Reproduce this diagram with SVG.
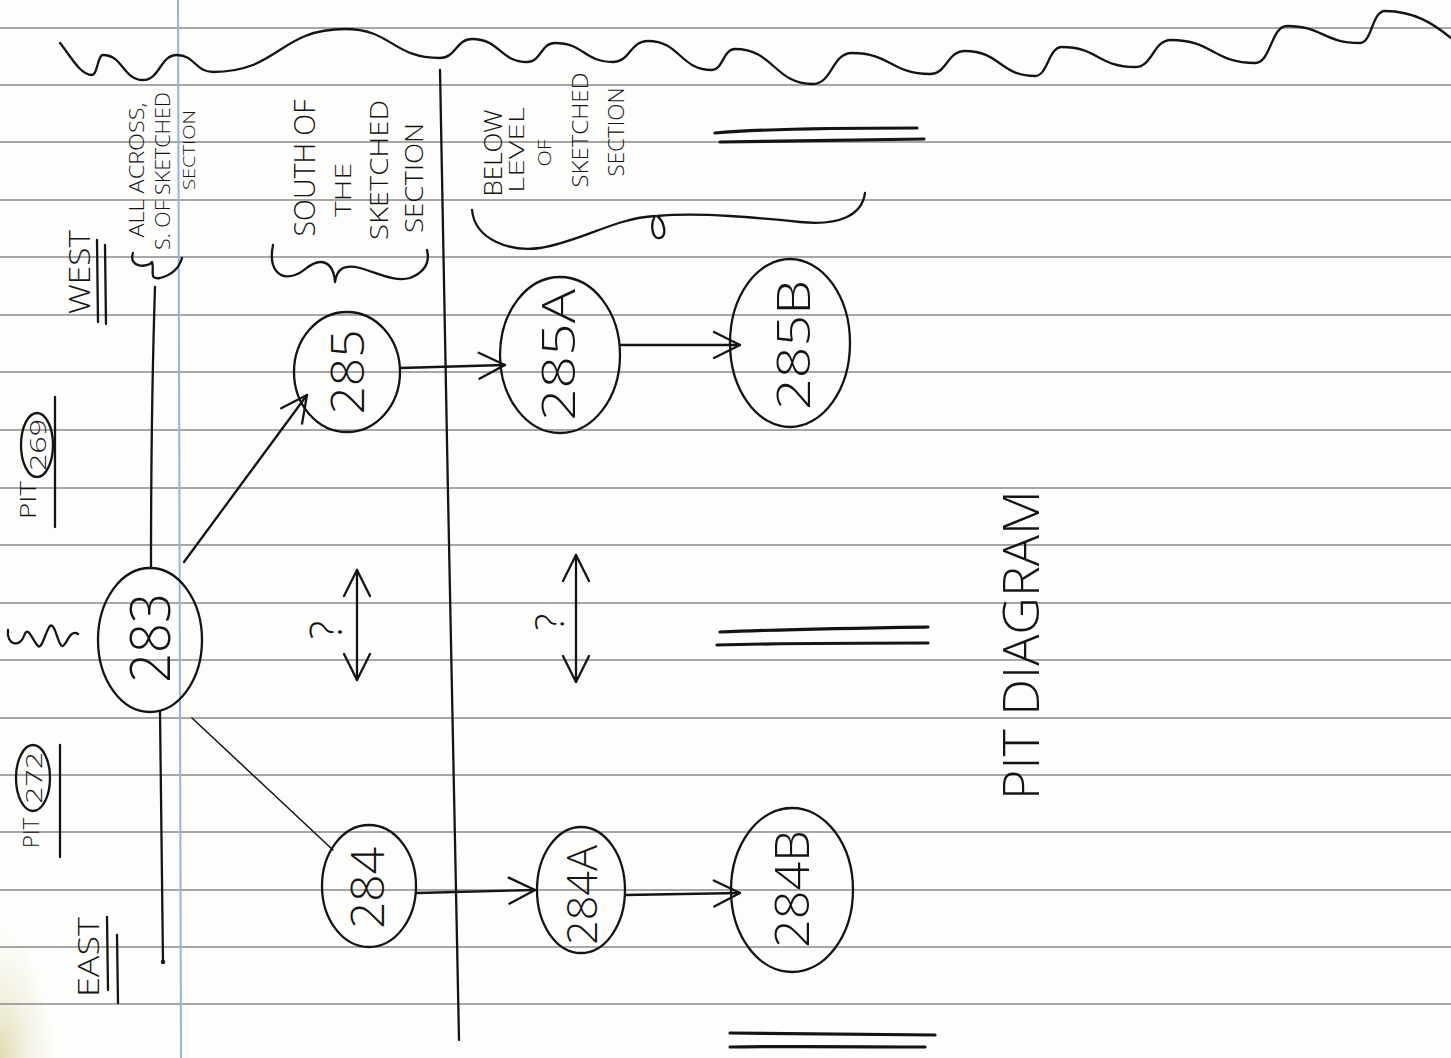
<svg xmlns="http://www.w3.org/2000/svg" width="1451" height="1058" viewBox="0 0 1451 1058">
<defs>
<style>
.rule{stroke:#8a8a8a;stroke-width:1.3;fill:none}
.margin{stroke:#8fb4ec;stroke-width:2;fill:none}
.ink{stroke:#141414;stroke-width:2.3;fill:none;stroke-linecap:round;stroke-linejoin:round}
.thin{stroke:#141414;stroke-width:1.5;fill:none;stroke-linecap:round}
.bold{stroke:#141414;stroke-width:3.2;fill:none;stroke-linecap:round}
.t{font-family:"Open Sans","Liberation Sans","DejaVu Sans",sans-serif;font-weight:300;fill:#141414;text-anchor:middle;dominant-baseline:central}
</style>
<marker id="ah" markerUnits="userSpaceOnUse" markerWidth="32" markerHeight="32" viewBox="0 0 32 32" refX="29" refY="16" orient="auto-start-reverse">
<path d="M3,3 L29,16 L3,29" fill="none" stroke="#141414" stroke-width="2.3" stroke-linecap="round" stroke-linejoin="round"/>
</marker>
<radialGradient id="shade" cx="0" cy="1" r="1">
<stop offset="0" stop-color="#dcd7a8" stop-opacity="0.9"/>
<stop offset="1" stop-color="#f4f2e2" stop-opacity="0"/>
</radialGradient>
</defs>
<rect width="1451" height="1058" fill="#fdfdfb"/>
<path d="M0,920 L30,960 L60,1058 L0,1058 Z" fill="url(#shade)"/>
<g id="paper">
<path class="rule" d="M0,28H1451M0,85H1451M0,142H1451M0,200H1451M0,257H1451M0,315H1451M0,372H1451M0,430H1451M0,488H1451M0,545H1451M0,603H1451M0,660H1451M0,718H1451M0,775H1451M0,832H1451M0,890H1451M0,947H1451M0,1004H1451"/>
<path class="margin" d="M178,0 L181,1058"/>
</g>
<g id="wave">
<path class="ink" d="M60,43 C70,55 80,75 92,75 C97.5,75 97.5,55 103,55 C123,55 123,80 143,80 C160,80 160,55 177,55 C195,55 195,72 213,72 C279,72 279,29 345,29 C392,29 392,58 440,58 C456,58 456,39 472,39 C500,39 500,62 527,62 C541,62 541,43 555,43 C584,43 584,62 613,62 C630,62 630,41 648,41 C680,41 680,70 712,70 C723,70 723,49 735,49 C774,49 774,84 813,84 C832,84 832,53 852,53 C891,53 891,74 930,74 C947,74 947,51 965,51 C1000,51 1000,76 1035,76 C1048,76 1048,47 1062,47 C1098,47 1098,67 1135,67 C1153,67 1153,40 1171,40 C1213,40 1213,63 1255,63 C1271,63 1271,26 1287,26 C1323,26 1323,43 1360,43 C1372,43 1372,11 1385,11 C1415,11 1435,25 1451,38"/>
</g>
<g id="divider">
<path class="ink" d="M440,70 C446,400 452,700 459,1040"/>
</g>
<g id="labels">
<text class="t" transform="translate(78,272) rotate(-90)" font-size="30" textLength="84" lengthAdjust="spacingAndGlyphs">WEST</text>
<path class="ink" d="M97,240 L98,322 M105,245 L106,324"/>
<text class="t" transform="translate(27,500) rotate(-90)" font-size="22" textLength="38" lengthAdjust="spacingAndGlyphs">PIT</text>
<ellipse class="ink" cx="37" cy="445" rx="16" ry="32"/>
<text class="t" transform="translate(37,445) rotate(-90)" font-size="22" textLength="52" lengthAdjust="spacingAndGlyphs">269</text>
<path class="ink" d="M55,397 L55,527"/>
<text class="t" transform="translate(30,833) rotate(-90)" font-size="22" textLength="30" lengthAdjust="spacingAndGlyphs">PIT</text>
<ellipse class="ink" cx="33" cy="778" rx="17" ry="33"/>
<text class="t" transform="translate(33,778) rotate(-90)" font-size="22" textLength="52" lengthAdjust="spacingAndGlyphs">272</text>
<path class="ink" d="M60,745 L60,857"/>
<text class="t" transform="translate(87,957) rotate(-90)" font-size="30" textLength="80" lengthAdjust="spacingAndGlyphs">EAST</text>
<path class="ink" d="M107,917 L108,990 M117,935 L118,1003"/>
<text class="t" transform="translate(136,170) rotate(-90)" font-size="20" textLength="135" lengthAdjust="spacingAndGlyphs">ALL ACROSS,</text>
<text class="t" transform="translate(162,171) rotate(-90)" font-size="20" textLength="158" lengthAdjust="spacingAndGlyphs">S. OF SKETCHED</text>
<text class="t" transform="translate(188,150) rotate(-90)" font-size="17" textLength="80" lengthAdjust="spacingAndGlyphs">SECTION</text>
<path class="ink" d="M133,253 C128,268 148,268 152,262 C155,270 148,280 160,278 C168,276 178,272 182,258"/>
<path class="ink" d="M8,630 C6,645 20,648 24,636 C28,624 32,640 38,646 C42,650 46,630 50,626 C55,622 58,645 62,646 C66,647 70,628 78,634"/>
<text class="t" transform="translate(303,168) rotate(-90)" font-size="30" textLength="137" lengthAdjust="spacingAndGlyphs">SOUTH OF</text>
<text class="t" transform="translate(342,190) rotate(-90)" font-size="22" textLength="54" lengthAdjust="spacingAndGlyphs">THE</text>
<text class="t" transform="translate(378,170) rotate(-90)" font-size="26" textLength="140" lengthAdjust="spacingAndGlyphs">SKETCHED</text>
<text class="t" transform="translate(413,178) rotate(-90)" font-size="26" textLength="110" lengthAdjust="spacingAndGlyphs">SECTION</text>
<path class="ink" d="M273,245 C268,270 280,280 295,275 C305,272 310,262 320,262 C330,262 334,270 335,282 C337,268 345,264 360,268 C380,274 395,282 410,278 C425,272 430,262 427,250"/>
<text class="t" transform="translate(492,153) rotate(-90)" font-size="26" textLength="87" lengthAdjust="spacingAndGlyphs">BELOW</text>
<text class="t" transform="translate(516,150) rotate(-90)" font-size="20" textLength="86" lengthAdjust="spacingAndGlyphs">LEVEL</text>
<text class="t" transform="translate(544,153) rotate(-90)" font-size="18" textLength="27" lengthAdjust="spacingAndGlyphs">OF</text>
<text class="t" transform="translate(579,130) rotate(-90)" font-size="22" textLength="115" lengthAdjust="spacingAndGlyphs">SKETCHED</text>
<text class="t" transform="translate(615,132) rotate(-90)" font-size="22" textLength="89" lengthAdjust="spacingAndGlyphs">SECTION</text>
<path class="ink" d="M472,210 C475,240 510,252 540,248 C580,242 615,218 655,216 C650,224 652,240 660,238 C667,236 665,222 657,216 C700,212 760,218 800,222 C840,226 862,215 865,193"/>
<path class="bold" d="M715,133 C760,129 850,128 917,128 M720,142 C790,141 860,140 924,139"/>
<path class="bold" d="M720,632 C790,629 860,628 928,627 M717,645 C790,643 860,643 928,643"/>
<path class="bold" d="M730,1033 C800,1034 870,1035 935,1035 M730,1047 C800,1046 870,1047 925,1047"/>
<text class="t" transform="translate(325,630) rotate(-90)" font-size="44">?</text>
<text class="t" transform="translate(548,622) rotate(-90)" font-size="40">?</text>
<text class="t" transform="translate(1020,645) rotate(-90)" font-size="50" textLength="310" lengthAdjust="spacingAndGlyphs">PIT  DIAGRAM</text>
</g>
<g id="connectors">
<path class="ink" d="M155,287 C152,380 151,470 151,568"/>
<path class="ink" d="M160,712 C161,800 162,880 163,962"/>
<circle cx="163" cy="962" r="2.2" fill="#141414"/>
<path class="ink" d="M184,562 L307,395" marker-end="url(#ah)"/>
<path class="thin" d="M192,718 L333,850"/>
<path class="ink" d="M400,368 L505,365" marker-end="url(#ah)"/>
<path class="ink" d="M620,345 L740,345" marker-end="url(#ah)"/>
<path class="ink" d="M417,893 L535,890" marker-end="url(#ah)"/>
<path class="ink" d="M625,895 L740,893" marker-end="url(#ah)"/>
<path class="ink" d="M357,570 L357,680" marker-start="url(#ah)" marker-end="url(#ah)"/>
<path class="ink" d="M576,555 L576,682" marker-start="url(#ah)" marker-end="url(#ah)"/>
</g>
<g id="n283">
<ellipse class="ink" cx="150" cy="640" rx="52" ry="72"/>
<text class="t" transform="translate(148,638) rotate(-90)" font-size="56" textLength="90" lengthAdjust="spacingAndGlyphs">283</text>
</g>
<g id="n285">
<ellipse class="ink" cx="347" cy="372" rx="53" ry="60"/>
<text class="t" transform="translate(346,372) rotate(-90)" font-size="46" textLength="85" lengthAdjust="spacingAndGlyphs">285</text>
</g>
<g id="n285A">
<ellipse class="ink" cx="560" cy="355" rx="60" ry="78"/>
<text class="t" transform="translate(557,355) rotate(-90)" font-size="46" textLength="132" lengthAdjust="spacingAndGlyphs">285A</text>
</g>
<g id="n285B">
<ellipse class="ink" cx="790" cy="343" rx="60" ry="84"/>
<text class="t" transform="translate(792,345) rotate(-90)" font-size="46" textLength="130" lengthAdjust="spacingAndGlyphs">285B</text>
</g>
<g id="n284">
<ellipse class="ink" cx="369" cy="886" rx="47" ry="61"/>
<text class="t" transform="translate(366,888) rotate(-90)" font-size="46" textLength="82" lengthAdjust="spacingAndGlyphs">284</text>
</g>
<g id="n284A">
<ellipse class="ink" cx="581" cy="890" rx="44" ry="63"/>
<text class="t" transform="translate(580,895) rotate(-90)" font-size="42" textLength="100" lengthAdjust="spacingAndGlyphs">284A</text>
</g>
<g id="n284B">
<ellipse class="ink" cx="792" cy="890" rx="61" ry="82"/>
<text class="t" transform="translate(790,889) rotate(-90)" font-size="48" textLength="118" lengthAdjust="spacingAndGlyphs">284B</text>
</g>
</svg>
